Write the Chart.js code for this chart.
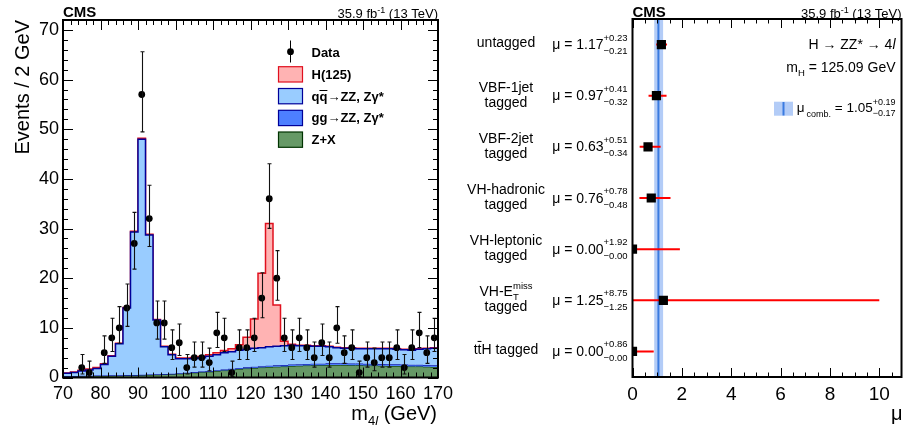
<!DOCTYPE html>
<html>
<head>
<meta charset="utf-8">
<script src="https://cdn.jsdelivr.net/npm/chart.js@4.4.1/dist/chart.umd.min.js"></script>
<style>
html, body { margin: 0; padding: 0; background: #fff; }
#wrap { position: relative; width: 908px; height: 432px; }
canvas { position: absolute; top: 0; }
#left { left: 0; }
#right { left: 460px; }
</style>
</head>
<body>
<div id="wrap">
  <canvas id="left" width="460" height="432" style="width:460px;height:432px"></canvas>
  <canvas id="right" width="448" height="432" style="width:448px;height:432px"></canvas>
</div>
<script>
// ---- left panel: m4l distribution, 2 GeV bins from 70 to 170 ----
var massEdges = [70, 72, 74, 76, 78, 80, 82, 84, 86, 88, 90, 92, 94, 96, 98, 100, 102, 104, 106, 108,
                 110, 112, 114, 116, 118, 120, 122, 124, 126, 128, 130, 132, 134, 136, 138, 140, 142, 144, 146, 148,
                 150, 152, 154, 156, 158, 160, 162, 164, 166, 168, 170];
var massTicks = [70, 80, 90, 100, 110, 120, 130, 140, 150, 160, 170];
var countTicks = [0, 10, 20, 30, 40, 50, 60, 70];

var zxBkg = [0.2, 0.2, 0.25, 0.25, 0.3, 0.3, 0.35, 0.35, 0.4, 0.4, 0.45, 0.5, 0.55, 0.6, 0.65,
             0.75, 0.85, 0.95, 1.05, 1.15, 1.3, 1.4, 1.55, 1.7, 1.8,
             1.9, 2.0, 2.1, 2.15, 2.2, 2.3, 2.35, 2.4, 2.45, 2.45,
             2.5, 2.5, 2.5, 2.45, 2.45, 2.4, 2.4, 2.35, 2.3, 2.3, 2.25, 2.2, 2.2, 2.15, 2.1];
var ggZZ = [0.1, 0.1, 0.1, 0.1, 0.1, 0.1, 0.1, 0.1, 0.1, 0.1, 0.1, 0.1, 0.1, 0.1, 0.1,
            0.12, 0.12, 0.14, 0.15, 0.16, 0.18, 0.2, 0.2, 0.22, 0.25,
            0.25, 0.27, 0.28, 0.3, 0.3, 0.3, 0.32, 0.32, 0.33, 0.33,
            0.35, 0.35, 0.35, 0.35, 0.35, 0.35, 0.35, 0.35, 0.35, 0.35, 0.35, 0.35, 0.35, 0.35, 0.35];
var qqZZ = [0.55, 0.7, 0.95, 1.15, 1.4, 2.2, 3.85, 6.35, 13.5, 28.8, 47.45, 28.1, 10.95, 5.5, 3.85,
            2.93, 2.83, 2.76, 2.8, 2.99, 3.12, 3.4, 3.45, 3.58, 3.65,
            3.75, 3.73, 3.82, 3.85, 3.9, 3.9, 3.73, 3.68, 3.52, 3.52,
            3.35, 3.15, 3.05, 3.1, 3.0, 3.05, 3.05, 3.1, 3.15, 3.05, 3.0, 2.95, 3.15, 3.3, 3.45];
var higgs = [0.05, 0.1, 0.15, 0.2, 0.2, 0.15, 0.1, 0.1, 0.1, 0.15, 0.2, 0.15, 0.1, 0.1, 0.1,
             0.15, 0.15, 0.2, 0.25, 0.3, 0.4, 0.45, 0.6, 1.1, 2.4,
             5.9, 15.0, 24.8, 8.3, 0.9, 0.2, 0.1, 0.1, 0.1, 0.1,
             0.1, 0.1, 0.1, 0.1, 0.1, 0.1, 0.1, 0.1, 0.1, 0.1, 0.1, 0.1, 0.1, 0.1, 0.1];
var dataCounts = [0, 0, 2, 1, 0, 5, 8, 10, 14, 27, 57, 32, 11, 11, 6, 7, 2, 4, 4, 3,
                  9, 8, 1, 6, 6, 8, 16, 36, 20, 8, 6, 8, 6, 4, 7, 4, 10, 5, 6, 1,
                  4, 3, 4, 4, 6, 2, 6, 9, 5, 8];

// ---- right panel: signal strength per category ----
var categories = ['untagged', 'VBF-1jet tagged', 'VBF-2jet tagged', 'VH-hadronic tagged',
                  'VH-leptonic tagged', 'VH-MET tagged', 'ttH tagged'];
var muValues = [1.17, 0.97, 0.63, 0.76, 0.00, 1.25, 0.00];
var muErrUp = [0.23, 0.41, 0.51, 0.78, 1.92, 8.75, 0.86];
var muErrDown = [0.21, 0.32, 0.34, 0.48, 0.00, 1.25, 0.00];
var muComb = 1.05, muCombUp = 0.19, muCombDown = 0.17;
var muTicks = [0, 2, 4, 6, 8, 10];

var FAMILY = '"Liberation Sans", Arial, Helvetica, "DejaVu Sans", sans-serif';
Chart.defaults.font.family = FAMILY;
Chart.defaults.color = '#000';

function font(size, weight, style) {
    return (style || 'normal') + ' ' + (weight || 'normal') + ' ' + size + 'px ' + FAMILY;
}

// draw a row of text pieces; a piece with sup/sub stacks the two scripts at the same x
function drawRich(ctx, parts, x, y, align) {
    var widths = [], total = 0;
    parts.forEach(function(p) {
        var w;
        if (p.sup !== undefined) {
            ctx.font = font(p.size);
            w = Math.max(ctx.measureText(p.sup).width, ctx.measureText(p.sub || '').width);
        } else {
            ctx.font = font(p.size, p.weight, p.style);
            w = ctx.measureText(p.t).width;
        }
        w += p.gap || 0;
        widths.push(w);
        total += w;
    });
    var cx = align === 'right' ? x - total : (align === 'center' ? x - total / 2 : x);
    ctx.textAlign = 'left';
    ctx.textBaseline = 'alphabetic';
    parts.forEach(function(p, i) {
        var x0 = cx + (p.gap || 0);
        if (p.sup !== undefined) {
            ctx.font = font(p.size);
            if (p.sup) ctx.fillText(p.sup, x0, y + p.supDy);
            if (p.sub) ctx.fillText(p.sub, x0, y + p.subDy);
        } else {
            ctx.font = font(p.size, p.weight, p.style);
            ctx.fillText(p.t, x0, y + (p.dy || 0));
            if (p.bar) {
                ctx.beginPath();
                ctx.lineWidth = 1;
                ctx.moveTo(x0, y - p.bar);
                ctx.lineTo(cx + widths[i], y - p.bar);
                ctx.stroke();
            }
        }
        cx += widths[i];
    });
}

// Garwood 68% interval for a Poisson count
function garwood(n) {
    var a = 1 - 0.6827;
    function cdf(k, mu) {
        var t = Math.exp(-mu), s = t;
        for (var i = 1; i <= k; i++) { t *= mu / i; s += t; }
        return s;
    }
    function solve(k, target) {
        var lo = 0, hi = 200;
        for (var it = 0; it < 80; it++) {
            var m = (lo + hi) / 2;
            if (cdf(k, m) > target) lo = m; else hi = m;
        }
        return (lo + hi) / 2;
    }
    return [n === 0 ? 0 : solve(n - 1, 1 - a / 2), solve(n, a / 2)];
}

function drawFrameTicks(ctx, area, sx, sy, xs, ys) {
    ctx.save();
    ctx.strokeStyle = '#000';
    ctx.lineWidth = 1;
    ctx.beginPath();
    xs.forEach(function(t) {
        var px = Math.round(sx.getPixelForValue(t.v)) + 0.5;
        ctx.moveTo(px, area.bottom); ctx.lineTo(px, area.bottom - t.len);
        ctx.moveTo(px, area.top); ctx.lineTo(px, area.top + t.len);
    });
    ys.forEach(function(t) {
        var py = Math.round(sy.getPixelForValue(t.v)) + 0.5;
        ctx.moveTo(area.left, py); ctx.lineTo(area.left + t.len, py);
        ctx.moveTo(area.right, py); ctx.lineTo(area.right - t.len, py);
    });
    ctx.stroke();
    ctx.lineWidth = 2;
    ctx.strokeRect(area.left, area.top, area.right - area.left, area.bottom - area.top);
    ctx.restore();
}

function cumulate(list) {
    var out = [];
    for (var i = 0; i < list[0].length; i++) {
        var s = 0;
        list.forEach(function(arr) { s += arr[i]; });
        out.push(s);
    }
    return out;
}
function stepPoints(vals) {
    return massEdges.map(function(e, i) {
        return { x: e, y: vals[Math.min(i, vals.length - 1)] };
    });
}

var cumZX = cumulate([zxBkg]);
var cumGG = cumulate([zxBkg, ggZZ]);
var cumQQ = cumulate([zxBkg, ggZZ, qqZZ]);
var cumH = cumulate([zxBkg, ggZZ, qqZZ, higgs]);
var dataPoints = dataCounts.map(function(n, i) {
    return { x: massEdges[i] + 1, y: n > 0 ? n : null };
});

var leftDecor = {
    id: 'leftDecor',
    afterDraw: function(chart) {
        var ctx = chart.ctx, area = chart.chartArea, sx = chart.scales.x, sy = chart.scales.y;
        ctx.save();
        // data error bars
        ctx.strokeStyle = '#111';
        ctx.lineWidth = 1.1;
        ctx.beginPath();
        dataCounts.forEach(function(n, i) {
            if (n <= 0) return;
            var iv = garwood(n);
            var px = Math.round(sx.getPixelForValue(massEdges[i] + 1)) + 0.5;
            var y0 = sy.getPixelForValue(iv[0]), y1 = sy.getPixelForValue(iv[1]);
            ctx.moveTo(px, y0); ctx.lineTo(px, y1);
            ctx.moveTo(px - 2, y0); ctx.lineTo(px + 2, y0);
            ctx.moveTo(px - 2, y1); ctx.lineTo(px + 2, y1);
        });
        ctx.stroke();

        var xs = [], ys = [];
        for (var m = 70; m <= 170; m += 2) xs.push({ v: m, len: m % 10 === 0 ? 10 : 5 });
        for (var c = 0; c <= 72; c += 2) ys.push({ v: c, len: c % 10 === 0 ? 10 : 5 });
        drawFrameTicks(ctx, area, sx, sy, xs, ys);

        ctx.fillStyle = '#000';
        ctx.strokeStyle = '#000';
        drawRich(ctx, [{ t: 'CMS', size: 15, weight: 'bold' }], area.left, 16.5, 'left');
        drawRich(ctx, [{ t: '35.9 fb', size: 13 }, { sup: '-1', sub: '', size: 9, supDy: -5 },
                       { t: ' (13 TeV)', size: 13 }], area.right, 17.5, 'right');
        drawRich(ctx, [{ t: 'm', size: 20 }, { t: '4', size: 13, dy: 5 }, { t: 'l', size: 13, style: 'italic', dy: 5 },
                       { t: ' (GeV)', size: 20 }], area.right - 1, 420, 'right');
        ctx.save();
        ctx.translate(28.5, area.top);
        ctx.rotate(-Math.PI / 2);
        drawRich(ctx, [{ t: 'Events / 2 GeV', size: 20 }], 0, 0, 'right');
        ctx.restore();

        // legend
        ctx.beginPath();
        ctx.lineWidth = 1;
        ctx.moveTo(290.5, 40.5); ctx.lineTo(290.5, 62.5);
        ctx.stroke();
        ctx.beginPath();
        ctx.arc(290.5, 51.7, 3.4, 0, Math.PI * 2);
        ctx.fill();
        var boxes = [
            { y: 66.7, fill: '#ffb3b3', line: '#e0101e' },
            { y: 88.5, fill: '#99ccff', line: '#000099' },
            { y: 110.3, fill: '#4d7fff', line: '#000099' },
            { y: 132, fill: '#669966', line: '#003300' }
        ];
        boxes.forEach(function(b) {
            ctx.fillStyle = b.fill;
            ctx.fillRect(278.5, b.y, 24, 15.3);
            ctx.strokeStyle = b.line;
            ctx.lineWidth = 1.2;
            ctx.strokeRect(278.5, b.y, 24, 15.3);
        });
        ctx.fillStyle = '#000';
        ctx.strokeStyle = '#000';
        var lx = 311.5;
        drawRich(ctx, [{ t: 'Data', size: 13, weight: 'bold' }], lx, 57, 'left');
        drawRich(ctx, [{ t: 'H(125)', size: 13, weight: 'bold' }], lx, 79, 'left');
        drawRich(ctx, [{ t: 'q', size: 13, weight: 'bold' }, { t: 'q', size: 13, weight: 'bold', bar: 10 },
                       { t: '\u2192', size: 13 }, { t: 'ZZ, Z\u03b3*', size: 13, weight: 'bold' }], lx, 100.5, 'left');
        drawRich(ctx, [{ t: 'gg', size: 13, weight: 'bold' }, { t: '\u2192', size: 13 },
                       { t: 'ZZ, Z\u03b3*', size: 13, weight: 'bold' }], lx, 122.3, 'left');
        drawRich(ctx, [{ t: 'Z+X', size: 13, weight: 'bold' }], lx, 144, 'left');
        ctx.restore();
    }
};

function histSet(label, vals, fill, bg, border, width, order) {
    return {
        label: label, data: stepPoints(vals), stepped: true, fill: fill,
        backgroundColor: bg, borderColor: border, borderWidth: width,
        pointRadius: 0, tension: 0, order: order
    };
}

new Chart(document.getElementById('left'), {
    type: 'line',
    data: {
        datasets: [
            histSet('Z+X', cumZX, 'origin', '#669966', '#003300', 1, 6),
            histSet('gg\u2192ZZ, Z\u03b3*', cumGG, '-1', '#4d7fff', '#000099', 1, 5),
            histSet('qq\u2192ZZ, Z\u03b3*', cumQQ, '-1', '#99ccff', '#000099', 1.5, 3),
            histSet('H(125)', cumH, '-1', '#ffb3b3', '#e0101e', 1.5, 4),
            { label: 'Data', data: dataPoints, showLine: false, pointRadius: 3.4, pointBorderWidth: 0,
              pointBackgroundColor: '#000', borderColor: '#000', order: 1 }
        ]
    },
    options: {
        responsive: false,
        animation: false,
        events: [],
        layout: { padding: { left: 0, right: 22, top: 20, bottom: 0 } },
        plugins: { legend: { display: false }, tooltip: { enabled: false } },
        scales: {
            x: {
                type: 'linear', min: 70, max: 170,
                grid: { display: false, drawTicks: false }, border: { display: false },
                ticks: { font: { size: 18 }, color: '#000', padding: 6, maxRotation: 0, autoSkip: false },
                afterBuildTicks: function(s) { s.ticks = massTicks.map(function(v) { return { value: v }; }); },
                afterFit: function(s) { s.height = 54.5; }
            },
            y: {
                type: 'linear', min: 0, max: 72,
                grid: { display: false, drawTicks: false }, border: { display: false },
                ticks: { font: { size: 18 }, color: '#000', padding: 4 },
                afterBuildTicks: function(s) { s.ticks = countTicks.map(function(v) { return { value: v }; }); },
                afterFit: function(s) { s.width = 63; }
            }
        }
    },
    plugins: [leftDecor]
});

// ---- right panel ----
function fmt(v) { return v.toFixed(2); }

var rightDecor = {
    id: 'rightDecor',
    beforeDatasetsDraw: function(chart) {
        var ctx = chart.ctx, area = chart.chartArea, sx = chart.scales.x, sy = chart.scales.y;
        ctx.save();
        var b0 = sx.getPixelForValue(muComb - muCombDown), b1 = sx.getPixelForValue(muComb + muCombUp);
        ctx.fillStyle = '#b3ccf7';
        ctx.fillRect(b0, area.top, b1 - b0, area.bottom - area.top);
        ctx.strokeStyle = '#3a7be0';
        ctx.lineWidth = 2;
        ctx.beginPath();
        ctx.moveTo(sx.getPixelForValue(muComb), area.top);
        ctx.lineTo(sx.getPixelForValue(muComb), area.bottom);
        ctx.stroke();
        ctx.strokeStyle = '#ff0000';
        ctx.lineWidth = 2;
        ctx.beginPath();
        muValues.forEach(function(v, i) {
            var py = sy.getPixelForValue(i);
            ctx.moveTo(sx.getPixelForValue(v - muErrDown[i]), py);
            ctx.lineTo(sx.getPixelForValue(v + muErrUp[i]), py);
        });
        ctx.stroke();
        ctx.restore();
    },
    afterDraw: function(chart) {
        var ctx = chart.ctx, area = chart.chartArea, sx = chart.scales.x, sy = chart.scales.y;
        ctx.save();
        var xs = [];
        for (var m = 0; m <= 10.5; m += 0.5) xs.push({ v: m, len: m % 2 === 0 ? 9 : 4.5 });
        drawFrameTicks(ctx, area, sx, sy, xs, []);

        ctx.fillStyle = '#000';
        ctx.strokeStyle = '#000';
        drawRich(ctx, [{ t: 'CMS', size: 15, weight: 'bold' }], area.left, 16.5, 'left');
        drawRich(ctx, [{ t: '35.9 fb', size: 13 }, { sup: '-1', sub: '', size: 9, supDy: -5 },
                       { t: ' (13 TeV)', size: 13 }], area.right, 17.5, 'right');
        drawRich(ctx, [{ t: '\u03bc', size: 20 }], area.right + 1, 420, 'right');
        drawRich(ctx, [{ t: 'H \u2192 ZZ* \u2192 4', size: 14 }, { t: 'l', size: 14, style: 'italic' }],
                 area.right - 6, 48.5, 'right');
        drawRich(ctx, [{ t: 'm', size: 14 }, { t: 'H', size: 9.5, dy: 3.5 }, { t: ' = 125.09 GeV', size: 14 }],
                 area.right - 6, 72, 'right');
        // combined legend
        ctx.fillStyle = '#b3ccf7';
        ctx.fillRect(314, 101.7, 19, 14);
        ctx.strokeStyle = '#3a7be0';
        ctx.lineWidth = 2;
        ctx.beginPath();
        ctx.moveTo(323.5, 102); ctx.lineTo(323.5, 115.5);
        ctx.stroke();
        ctx.fillStyle = '#000';
        ctx.strokeStyle = '#000';
        drawRich(ctx, [{ t: '\u03bc', size: 13.5 }, { t: 'comb.', size: 9, dy: 5.5, gap: 2 }, { t: ' = ' + fmt(muComb), size: 13.5 },
                       { sup: '+' + fmt(muCombUp), sub: '\u2212' + fmt(muCombDown), size: 9, supDy: -7, subDy: 4.5 }],
                 area.right - 6, 111.5, 'right');

        // category labels and values
        var lines = [
            [[{ t: 'untagged', size: 14 }]],
            [[{ t: 'VBF-1jet', size: 14 }], [{ t: 'tagged', size: 14 }]],
            [[{ t: 'VBF-2jet', size: 14 }], [{ t: 'tagged', size: 14 }]],
            [[{ t: 'VH-hadronic', size: 14 }], [{ t: 'tagged', size: 14 }]],
            [[{ t: 'VH-leptonic', size: 14 }], [{ t: 'tagged', size: 14 }]],
            [[{ t: 'VH-E', size: 14 }, { sup: 'miss', sub: 'T', size: 9.5, supDy: -7, subDy: 3.5 }], [{ t: 'tagged', size: 14 }]],
            [[{ t: 't', size: 14 }, { t: 't', size: 14, bar: 12.5 }, { t: 'H tagged', size: 14 }]]
        ];
        lines.forEach(function(ls, i) {
            var r = sy.getPixelForValue(i);
            if (ls.length === 1) {
                drawRich(ctx, ls[0], 46, r + 2.5, 'center');
            } else {
                drawRich(ctx, ls[0], 46, r - 4, 'center');
                drawRich(ctx, ls[1], 46, r + 11, 'center');
            }
            drawRich(ctx, [{ t: '\u03bc = ' + fmt(muValues[i]), size: 14 },
                           { sup: '+' + fmt(muErrUp[i]), sub: '\u2212' + fmt(muErrDown[i]), size: 9.5, supDy: -8.5, subDy: 5 }],
                     92.3, r + 4.5, 'left');
        });
        ctx.restore();
    }
};

new Chart(document.getElementById('right'), {
    type: 'scatter',
    data: {
        datasets: [{
            label: 'mu',
            data: muValues.map(function(v, i) { return { x: v, y: categories[i] }; }),
            pointStyle: 'rect', pointRadius: 6.5, pointBorderWidth: 0,
            pointBackgroundColor: '#000', borderColor: '#000'
        }]
    },
    options: {
        responsive: false,
        animation: false,
        events: [],
        layout: { padding: { left: 172.5, right: 4, top: 19, bottom: 0 } },
        plugins: { legend: { display: false }, tooltip: { enabled: false } },
        scales: {
            x: {
                type: 'linear', min: 0, max: 10.9,
                grid: { display: false, drawTicks: false }, border: { display: false },
                ticks: { font: { size: 19 }, color: '#000', padding: 6, maxRotation: 0, autoSkip: false },
                afterBuildTicks: function(s) { s.ticks = muTicks.map(function(v) { return { value: v }; }); },
                afterFit: function(s) { s.height = 55; }
            },
            y: { type: 'category', labels: categories, offset: true, display: false }
        }
    },
    plugins: [rightDecor]
});
</script>
</body>
</html>
